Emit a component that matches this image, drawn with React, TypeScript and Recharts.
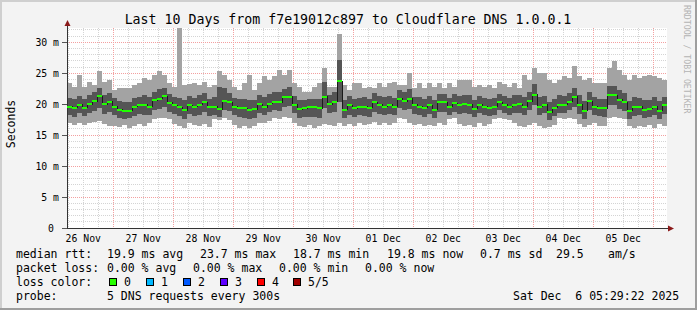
import React from 'react';
import { ComposedChart, Area, Line, XAxis, YAxis, CartesianGrid } from 'recharts';

// layout: rrdtool style 600x200 plot inside the 697x310 image
const W = 697;
const H = 310;
const PL = 67;
const PT = 28;
const PW = 600;
const PH = 200;
const FONT = '"DejaVu Sans Mono", "Liberation Mono", monospace';

// hours after 26 Nov 00:00, graph ends Sat Dec 6 05:29:22
const T0 = 5 + 29 / 60 + 22 / 3600;
const SPAN = 240;
const STEP = 2;
const Y_MAX = 32.3;

const dayLabels = ['26 Nov', '27 Nov', '28 Nov', '29 Nov', '30 Nov', '01 Dec', '02 Dec', '03 Dec', '04 Dec', '05 Dec'];
const yTicks = [0, 5, 10, 15, 20, 25, 30];

// smoke per 2h step (ms): min, 2nd, median, 4th, max of the 5 sorted pings
const minV = [
  16.9, 16.6, 17.0, 16.7, 16.9, 17.1, 17.2, 16.8, 16.5, 16.4, 16.3, 16.6, 16.2, 16.5, 16.8, 16.4, 16.9, 17.6, 17.8, 17.7,
  17.6, 16.8, 16.5, 16.2, 16.9, 16.6, 16.4, 16.8, 16.3, 17.6, 17.5, 17.8, 17.4, 16.6, 16.2, 16.5, 16.1, 16.4, 16.9, 17.0,
  17.2, 17.7, 17.6, 17.9, 17.8, 16.9, 16.4, 16.3, 16.6, 16.2, 16.5, 16.8, 16.7, 16.4, 16.9, 16.5, 16.8, 16.4, 16.9, 16.6,
  16.8, 17.1, 16.7, 16.9, 16.6, 17.0, 17.7, 17.6, 17.0, 16.6, 16.8, 16.5, 16.7, 16.4, 16.9, 16.6, 17.6, 17.7, 16.8, 16.4,
  16.7, 16.3, 16.9, 16.5, 16.8, 17.6, 17.8, 17.6, 17.5, 16.9, 16.5, 16.3, 16.6, 16.9, 16.4, 16.2, 16.3, 16.7, 17.7, 17.6,
  17.8, 17.6, 16.8, 16.3, 16.6, 16.9, 16.5, 16.4, 17.7, 17.9, 17.8, 17.6, 16.4, 16.1, 16.5, 16.3, 16.6, 16.2, 16.8, 16.5,
];
const lowV = [
  18.3, 18.0, 18.5, 18.1, 18.6, 18.9, 19.4, 18.4, 18.7, 18.2, 17.8, 17.6, 17.7, 18.1, 18.4, 18.3, 18.2, 19.1, 19.2, 19.6,
  18.8, 18.4, 18.1, 17.6, 18.4, 18.1, 18.2, 18.8, 18.1, 18.3, 17.9, 19.0, 18.9, 18.2, 17.9, 17.8, 17.6, 17.8, 18.5, 18.3,
  18.7, 19.0, 18.9, 19.6, 19.7, 18.5, 17.8, 17.9, 18.0, 18.0, 17.8, 19.3, 18.5, 18.8, 20.3, 17.8, 18.3, 17.9, 18.2, 18.1,
  18.0, 18.8, 18.4, 18.2, 18.4, 18.3, 19.4, 19.0, 19.2, 18.4, 18.2, 18.0, 18.4, 17.8, 18.8, 18.7, 18.3, 18.8, 18.4, 18.5,
  18.4, 17.9, 18.5, 18.2, 18.1, 18.3, 19.0, 18.6, 18.3, 18.5, 18.5, 18.2, 19.0, 19.8, 18.2, 18.5, 17.4, 18.1, 18.6, 18.5,
  19.0, 19.6, 18.4, 17.6, 19.0, 18.2, 18.1, 18.0, 19.8, 19.9, 19.2, 18.9, 17.6, 18.1, 18.2, 17.8, 17.9, 18.2, 17.6, 18.4,
];
const medV = [
  19.6, 19.4, 19.9, 19.4, 20.0, 20.5, 21.3, 20.0, 20.4, 19.6, 19.1, 18.9, 18.9, 19.6, 19.8, 19.9, 19.6, 20.6, 20.9, 21.3,
  20.2, 19.8, 19.5, 19.0, 19.8, 19.6, 19.9, 20.3, 19.5, 19.6, 19.2, 20.5, 20.3, 19.6, 19.35, 19.35, 19.1, 19.2, 20.0, 19.5,
  20.1, 20.4, 20.3, 21.1, 21.2, 19.9, 19.2, 19.35, 19.5, 19.5, 19.3, 21.2, 20.0, 20.4, 23.7, 19.1, 19.8, 19.35, 19.6, 19.6,
  19.4, 20.3, 19.9, 19.6, 19.9, 19.6, 20.9, 20.5, 20.9, 19.9, 19.6, 19.45, 19.8, 19.1, 20.3, 20.3, 19.6, 20.15, 19.9, 20.0,
  19.9, 19.25, 19.9, 19.6, 19.45, 19.6, 20.3, 19.9, 19.6, 19.9, 20.0, 19.6, 20.5, 21.5, 19.6, 19.9, 18.7, 19.45, 19.9, 19.9,
  20.4, 21.2, 19.9, 18.9, 20.5, 19.6, 19.45, 19.35, 21.5, 21.4, 20.7, 20.3, 18.9, 19.6, 19.6, 19.1, 19.25, 19.6, 18.9, 19.8,
];
const highV = [
  21.0, 20.8, 21.3, 20.9, 21.4, 21.9, 22.6, 21.5, 21.8, 21.0, 20.5, 20.4, 20.3, 21.0, 21.2, 21.4, 21.1, 22.0, 22.4, 22.6,
  21.6, 21.2, 21.0, 20.6, 21.3, 21.0, 21.4, 21.8, 20.9, 21.1, 22.8, 22.6, 21.8, 21.0, 20.8, 20.9, 20.7, 20.6, 21.5, 21.1,
  21.6, 21.9, 22.0, 22.5, 22.7, 21.3, 20.6, 20.7, 20.8, 20.9, 20.8, 23.5, 21.4, 21.9, 27.2, 20.6, 21.3, 20.8, 21.0, 21.1,
  20.9, 21.8, 21.3, 21.1, 21.3, 21.0, 22.3, 21.9, 22.4, 21.2, 21.1, 20.9, 21.3, 20.6, 21.7, 21.6, 21.0, 21.6, 21.3, 21.4,
  21.4, 20.7, 21.3, 21.0, 20.9, 21.0, 21.7, 21.3, 21.0, 21.4, 21.4, 21.1, 22.0, 23.2, 21.1, 21.3, 20.4, 20.9, 21.4, 21.3,
  21.8, 22.6, 21.4, 20.5, 21.9, 21.1, 20.9, 20.8, 22.9, 22.9, 22.3, 21.8, 20.5, 21.1, 21.0, 20.6, 20.7, 21.1, 20.5, 21.2,
];
const maxV = [
  23.4, 22.85, 24.7, 22.85, 23.6, 23.1, 25.3, 23.65, 23.9, 22.3, 22.6, 22.6, 22.6, 23.1, 23.4, 24.2, 23.9, 24.7, 25.3, 24.7,
  23.4, 22.85, 32.3, 23.1, 23.2, 23.4, 23.1, 23.65, 22.85, 23.1, 25.3, 24.7, 23.9, 22.85, 22.3, 23.4, 24.7, 22.3, 23.4, 24.5,
  23.9, 24.5, 25.5, 24.7, 25.5, 23.4, 22.85, 22.0, 22.0, 22.85, 23.4, 25.9, 22.85, 22.85, 31.3, 23.1, 22.3, 23.4, 23.4, 22.6,
  22.85, 22.6, 23.4, 22.85, 23.4, 23.65, 23.1, 23.1, 25.0, 22.6, 23.4, 22.6, 23.4, 22.85, 23.4, 22.6, 23.4, 22.85, 23.9, 23.9,
  23.9, 22.85, 23.1, 22.85, 23.1, 22.6, 23.65, 23.2, 22.85, 23.4, 22.6, 24.7, 23.9, 25.8, 25.0, 25.0, 23.9, 23.4, 23.9, 24.5,
  24.2, 26.1, 24.5, 23.9, 24.2, 23.4, 23.4, 23.4, 25.8, 26.9, 25.5, 24.7, 23.9, 24.7, 24.2, 24.5, 24.7, 24.5, 24.2, 23.9,
];

// legend texts
const rttStats = ['19.9 ms avg', '23.7 ms max', '18.7 ms min', '19.8 ms now', '0.7 ms sd', '29.5', 'am/s'];
const lossStats = ['0.00 % avg', '0.00 % max', '0.00 % min', '0.00 % now'];
const lossLabels = ['0', '1', '2', '3', '4', '5/5'];
const lossColors = ['#26ff00', '#00b8ff', '#0059ff', '#5e00ff', '#ff0000', '#a00000'];

// x positions of legend pieces (px)
const rttX = [107, 200, 293, 387, 480, 556, 608];
const lossX = [107, 193, 279, 365];
const boxX = [109, 146, 183, 220, 257, 293];

const rows = medV.map((m, i) => ({
  t: T0 + i * STEP,
  base: minV[i],
  outerLo: lowV[i] - minV[i],
  inner: highV[i] - lowV[i],
  outerHi: maxV[i] - highV[i],
  med: m,
  last: false,
}));
rows.push({ ...rows[rows.length - 1], t: T0 + SPAN, last: true });

const xPx = (t: number) => PL + ((t - T0) / SPAN) * PW;
const yPx = (v: number) => PT + PH - (v / Y_MAX) * PH;

const minorX: number[] = [];
const majorX: number[] = [];
for (let h = 0; h <= 252; h += 6) {
  if (h < T0 || h > T0 + SPAN) continue;
  (h % 24 === 0 ? majorX : minorX).push(xPx(h));
}
const minorY: number[] = [];
const majorY: number[] = [];
for (let v = 1; v <= 32; v++) (v % 5 === 0 ? majorY : minorY).push(yPx(v));

const stepPx = (STEP / SPAN) * PW;

const MedianMark = (p: any) => {
  if (p.cx == null || p.cy == null || p.payload?.last) return <g key={`m-${p.index}`} />;
  return <rect key={`m-${p.index}`} x={p.cx} y={p.cy - 1} width={stepPx} height={2} fill="#20ff00" />;
};

const XTick = (p: any) => (
  <text x={p.x} y={PT + PH + 13.5} textAnchor="middle" fontSize={9.8} fontFamily={FONT} fill="#000">
    {dayLabels[p.index]}
  </text>
);

const YTick = (p: any) => {
  const v = p.payload.value;
  return (
    <text x={p.x - (v === 0 ? 5 : 0)} y={p.y + 3.5} textAnchor="end" fontSize={9.8} fontFamily={FONT} fill="#000">
      {v === 0 ? '0' : `${v} m`}
    </text>
  );
};

function Overlay() {
  const ay = PT + PH;
  const txt = { fontSize: 11.5, fill: '#000', style: { whiteSpace: 'pre' as const } };
  return (
    <svg width={W} height={H} fontFamily={FONT} style={{ position: 'absolute', left: 0, top: 0, pointerEvents: 'none' }}>
      <rect x={0} y={0} width={W} height={2} fill="#cfcfcf" />
      <rect x={0} y={0} width={2} height={H} fill="#cfcfcf" />
      <rect x={0} y={H - 2} width={W} height={2} fill="#9e9e9e" />
      <rect x={W - 2} y={0} width={2} height={H} fill="#9e9e9e" />

      <text x={348} y={24} textAnchor="middle" fontSize={13.25} fill="#000">
        Last 10 Days from f7e19012c897 to Cloudflare DNS 1.0.0.1
      </text>
      <text x={15} y={124} transform="rotate(-90 15 124)" textAnchor="middle" fontSize={11.5} fill="#000">
        Seconds
      </text>
      <text x={684} y={5} transform="rotate(90 684 5)" fontSize={8.2} fill="#b4b4b4">
        RRDTOOL / TOBI OETIKER
      </text>

      {/* axis extensions and arrows */}
      <line x1={PL + 0.5} y1={22} x2={PL + 0.5} y2={PT} stroke="#333" />
      <polygon points={`${PL + 0.5},20 ${PL - 2.5},26 ${PL + 3.5},26`} fill="#8b1a1a" />
      <line x1={PL + PW} y1={ay + 0.5} x2={670} y2={ay + 0.5} stroke="#333" />
      <polygon points={`674,${ay + 0.5} 668,${ay - 2.5} 668,${ay + 3.5}`} fill="#8b1a1a" />

      <text x={16} y={258} {...txt}>median rtt:</text>
      {rttStats.map((s, i) => (
        <text key={s} x={rttX[i]} y={258} {...txt}>{s}</text>
      ))}
      <text x={16} y={272} {...txt}>packet loss:</text>
      {lossStats.map((s, i) => (
        <text key={s} x={lossX[i]} y={272} {...txt}>{s}</text>
      ))}
      <text x={16} y={286} {...txt}>loss color:</text>
      {lossLabels.map((s, i) => (
        <g key={s}>
          <rect x={boxX[i] + 0.5} y={278.5} width={7} height={7} fill={lossColors[i]} stroke="#000" />
          <text x={boxX[i] + 15} y={286} {...txt}>{s}</text>
        </g>
      ))}
      <text x={16} y={300} {...txt}>probe:</text>
      <text x={107} y={300} {...txt}>5 DNS requests every 300s</text>
      <text x={513} y={300} {...txt}>Sat Dec  6 05:29:22 2025</text>
    </svg>
  );
}

export default function App() {
  return (
    <div style={{ position: 'absolute', left: 0, top: 0, width: W, height: H, background: '#f3f3f3', overflow: 'hidden' }}>
      <style>{'.recharts-surface line, .recharts-surface rect, .recharts-surface path { shape-rendering: crispEdges; }'}</style>
      <ComposedChart width={W} height={H} data={rows} margin={{ top: PT, right: W - PL - PW, bottom: H - PT - PH - 20, left: 0 }}>
        <CartesianGrid
          fill="#ffffff"
          stroke="#d4d4d4"
          strokeDasharray="1 1"
          verticalCoordinatesGenerator={() => minorX}
          horizontalCoordinatesGenerator={() => minorY}
        />
        <CartesianGrid
          stroke="#f3a0a0"
          strokeDasharray="1 1"
          verticalCoordinatesGenerator={() => majorX}
          horizontalCoordinatesGenerator={() => majorY}
        />
        <XAxis
          type="number"
          dataKey="t"
          domain={[T0, T0 + SPAN]}
          allowDataOverflow
          ticks={dayLabels.map((_, i) => 12 + 24 * i)}
          tick={XTick}
          tickLine={false}
          axisLine={{ stroke: '#333' }}
          height={20}
        />
        <YAxis
          type="number"
          domain={[0, Y_MAX]}
          allowDataOverflow
          ticks={yTicks}
          tick={YTick}
          tickSize={5}
          tickMargin={3}
          tickLine={{ stroke: '#555' }}
          axisLine={{ stroke: '#333' }}
          width={PL}
        />
        <Area type="stepAfter" dataKey="base" stackId="s" stroke="none" fill="transparent" isAnimationActive={false} dot={false} activeDot={false} />
        <Area type="stepAfter" dataKey="outerLo" stackId="s" stroke="none" fill="#a3a3a3" fillOpacity={1} isAnimationActive={false} dot={false} activeDot={false} />
        <Area type="stepAfter" dataKey="inner" stackId="s" stroke="none" fill="#555555" fillOpacity={1} isAnimationActive={false} dot={false} activeDot={false} />
        <Area type="stepAfter" dataKey="outerHi" stackId="s" stroke="none" fill="#a3a3a3" fillOpacity={1} isAnimationActive={false} dot={false} activeDot={false} />
        <Line type="stepAfter" dataKey="med" stroke="#1a1a1a" strokeWidth={1} dot={MedianMark} activeDot={false} isAnimationActive={false} />
      </ComposedChart>
      <Overlay />
    </div>
  );
}
